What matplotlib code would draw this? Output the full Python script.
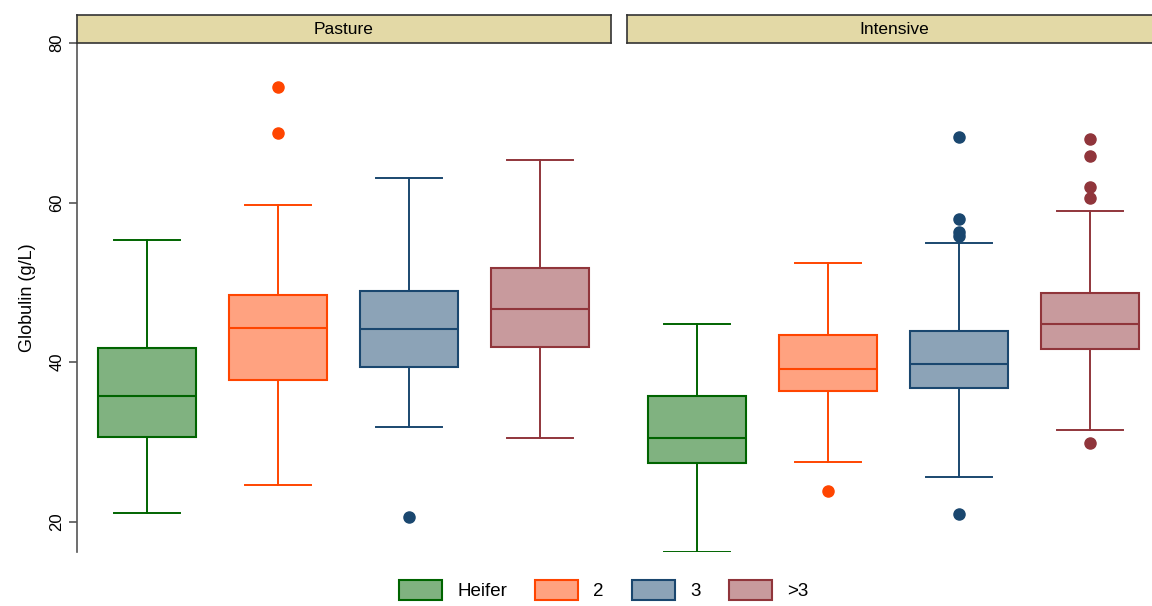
import matplotlib
matplotlib.use("Agg")
import matplotlib.pyplot as plt
from matplotlib.patches import Patch

plt.rcParams['font.family'] = ['Liberation Sans', 'DejaVu Sans']

# Parity groups and production systems
groups = ["Heifer", "2", "3", ">3"]
systems = ["Pasture", "Intensive"]

# Box statistics per system, in group order
pasture_whislo = [21.1, 24.6, 31.9, 30.5]
pasture_q1 = [30.6, 37.8, 39.4, 41.9]
pasture_med = [35.7, 44.3, 44.2, 46.7]
pasture_q3 = [41.8, 48.4, 48.9, 51.8]
pasture_whishi = [55.3, 59.7, 63.1, 65.3]
pasture_fliers = [[], [74.5, 68.7], [20.6], []]

intensive_whislo = [16.2, 27.5, 25.6, 31.5]
intensive_q1 = [27.4, 36.4, 36.7, 41.7]
intensive_med = [30.5, 39.2, 39.8, 44.8]
intensive_q3 = [35.7, 43.4, 43.9, 48.7]
intensive_whishi = [44.8, 52.4, 54.9, 59.0]
intensive_fliers = [[], [23.8], [68.2, 58.0, 56.3, 55.8, 21.0],
                    [68.0, 65.8, 62.0, 60.6, 29.8]]

edge_colors = ["#006400", "#ff4500", "#1a476f", "#90353b"]
fill_colors = ["#80b280", "#ffa280", "#8ca3b7", "#c89a9d"]

panel_data = {
    "Pasture": (pasture_whislo, pasture_q1, pasture_med, pasture_q3,
                pasture_whishi, pasture_fliers),
    "Intensive": (intensive_whislo, intensive_q1, intensive_med, intensive_q3,
                  intensive_whishi, intensive_fliers),
}

W, H = 1152, 606
fig = plt.figure(figsize=(W / 100, H / 100), dpi=100)

axis_grey = "#555555"
plot_top, plot_bottom = 43, 552
panel_w = 534
panel_lefts = [77, 627]
header_top = 15

for i, (system, left) in enumerate(zip(systems, panel_lefts)):
    ax = fig.add_axes([left / W, 1 - plot_bottom / H, panel_w / W,
                       (plot_bottom - plot_top) / H])
    whislo, q1, med, q3, whishi, fliers = panel_data[system]
    stats = []
    for k in range(len(groups)):
        stats.append(dict(med=med[k], q1=q1[k], q3=q3[k],
                          whislo=whislo[k], whishi=whishi[k],
                          fliers=fliers[k]))
    positions = list(range(1, len(groups) + 1))
    bp = ax.bxp(stats, positions=positions, widths=0.75, patch_artist=True,
                showfliers=True, capwidths=0.5)
    for k in range(len(groups)):
        ec, fc = edge_colors[k], fill_colors[k]
        bp['boxes'][k].set(facecolor=fc, edgecolor=ec, linewidth=1.5)
        bp['medians'][k].set(color=ec, linewidth=1.5)
        for w in bp['whiskers'][2 * k:2 * k + 2]:
            w.set(color=ec, linewidth=1.4)
        for c in bp['caps'][2 * k:2 * k + 2]:
            c.set(color=ec, linewidth=1.4)
        bp['fliers'][k].set(marker='o', markerfacecolor=ec,
                            markeredgecolor=ec, markersize=8)

    x0 = 1 - 70 / 131
    ax.set_xlim(x0, x0 + panel_w / 131)
    ax.set_ylim(16.2, 80)
    ax.set_xticks([])
    for s in ["top", "right", "bottom"]:
        ax.spines[s].set_visible(False)
    if i == 0:
        ax.spines["left"].set_color(axis_grey)
        ax.spines["left"].set_linewidth(1.2)
        ax.set_yticks([20, 40, 60, 80])
        ax.set_yticklabels(["20", "40", "60", "80"], rotation=90,
                           va="center", fontsize=12)
        ax.tick_params(axis="y", length=6, width=1.2, color=axis_grey, pad=3)
        ax.set_ylabel("Globulin (g/L)", fontsize=13, labelpad=10)
    else:
        ax.spines["left"].set_visible(False)
        ax.set_yticks([])
    ax.patch.set_visible(False)

    # panel header strip
    hax = fig.add_axes([left / W, 1 - plot_top / H, panel_w / W,
                        (plot_top - header_top) / H])
    hax.set_facecolor("#e3d9a6")
    hax.set_xticks([])
    hax.set_yticks([])
    for s in hax.spines.values():
        s.set_color("#333333")
        s.set_linewidth(1.2)
    hax.text(0.5, 0.48, system, ha="center", va="center", fontsize=12.5,
             transform=hax.transAxes)

handles = [Patch(facecolor=fc, edgecolor=ec, linewidth=1.5, label=g)
           for g, fc, ec in zip(groups, fill_colors, edge_colors)]
fig.legend(handles=handles, loc="center", bbox_to_anchor=(0.524, 1 - 590 / H),
           ncol=4, frameon=False, fontsize=13.5, handlelength=2.3,
           handleheight=1.3, handletextpad=0.8, columnspacing=1.5)

fig.savefig("out.png", dpi=100)
